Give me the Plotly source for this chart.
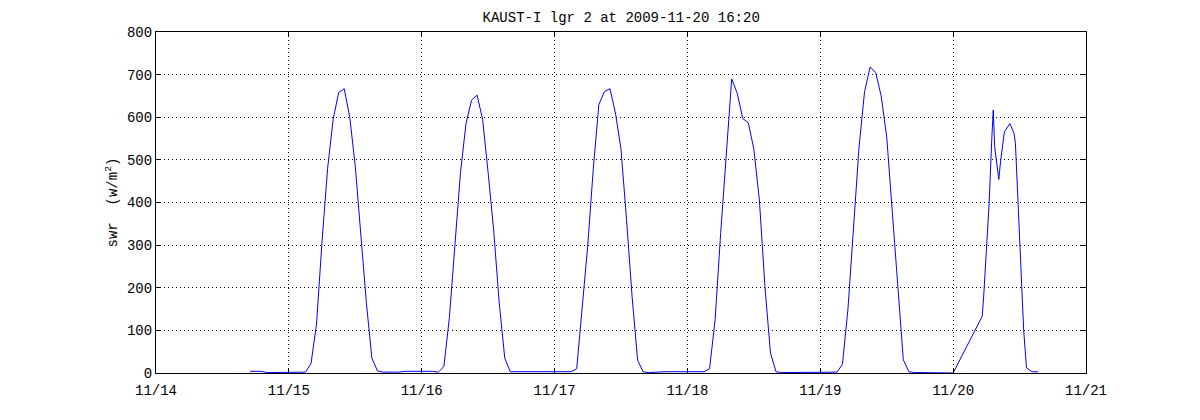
import pandas as pd
import plotly.graph_objects as go

# ---- data ----
title_text = "KAUST-I lgr 2 at 2009-11-20 16:20"
tick_days = ["2009-11-14", "2009-11-15", "2009-11-16", "2009-11-17",
             "2009-11-18", "2009-11-19", "2009-11-20", "2009-11-21"]
tick_labels = ["11/14", "11/15", "11/16", "11/17", "11/18", "11/19", "11/20", "11/21"]
y_ticks = [0, 100, 200, 300, 400, 500, 600, 700, 800]

# hourly values, 2009-11-14 17:00 .. 23:00
nov14_start = "2009-11-14 17:00"
nov14 = [4, 4, 4, 1, 1, 1, 1]
# hourly values 00:00 .. 23:00
nov15 = [1, 1, 1, 2, 22, 115, 310, 480, 595, 658, 667, 600, 485, 330, 165, 35, 5, 2, 2, 2, 2, 4, 4, 4]
nov16 = [4, 4, 4, 2, 15, 130, 305, 470, 585, 640, 652, 595, 470, 335, 165, 35, 3, 3, 3, 3, 3, 3, 3, 3]
nov17 = [3, 3, 3, 3, 10, 150, 300, 480, 630, 660, 667, 610, 525, 360, 180, 30, 3, 1, 2, 2, 3, 3, 3, 3]
nov18 = [3, 3, 3, 3, 10, 125, 327, 500, 690, 656, 597, 587, 525, 406, 203, 47, 3, 1, 1, 1, 2, 2, 2, 2]
nov19 = [2, 2, 2, 2, 20, 150, 340, 530, 660, 718, 705, 650, 554, 382, 199, 31, 3, 1, 1, 1, 1, 1, 1, 1]
# irregular samples on 2009-11-20
nov20_times = ["00:00", "05:15", "05:30", "06:00", "06:30", "07:00", "07:15", "07:30",
               "08:15", "08:30", "09:00", "09:15", "10:15", "11:00", "11:15", "12:00",
               "12:30", "12:45", "13:15", "14:15", "15:20"]
nov20 = [0, 133, 176, 287, 398, 554, 617, 531,
         454, 488, 546, 566, 585, 562, 539, 320,
         203, 99, 12, 3, 3]

# ---- assemble ----
times = list(pd.date_range(nov14_start, periods=len(nov14), freq="h"))
values = list(nov14)
for day, vals in [("2009-11-15", nov15), ("2009-11-16", nov16), ("2009-11-17", nov17),
                  ("2009-11-18", nov18), ("2009-11-19", nov19)]:
    times += list(pd.date_range(day + " 00:00", periods=len(vals), freq="h"))
    values += vals
times += [pd.Timestamp("2009-11-20 " + t) for t in nov20_times]
values += nov20

font_family = "Liberation Mono, DejaVu Sans Mono, monospace"

fig = go.Figure()
fig.add_trace(go.Scatter(x=times, y=values, mode="lines",
                         line=dict(color="#0000ff", width=1), showlegend=False))

axis_common = dict(
    showline=True, linecolor="black", linewidth=1, mirror="ticks",
    ticks="inside", ticklen=5, tickcolor="black", tickwidth=1,
    showgrid=True, gridcolor="black", gridwidth=1, griddash="1px,3px",
    zeroline=False, tickfont=dict(family=font_family, size=14, color="black"),
)

fig.update_layout(
    width=1200, height=420,
    margin=dict(l=148, r=122, t=24, b=55),
    paper_bgcolor="white", plot_bgcolor="white",
    title=dict(text=title_text, x=0.511, xanchor="center", y=0.979, yanchor="middle",
               font=dict(family=font_family, size=14, color="black")),
    xaxis=dict(type="date", range=[tick_days[0], tick_days[-1]],
               tickvals=tick_days, ticktext=tick_labels, ticklabelstandoff=4,
               **axis_common),
    yaxis=dict(range=[0, 800], tickvals=y_ticks,
               title=dict(text="swr  (w/m<sup>2</sup>)", standoff=6,
                          font=dict(family=font_family, size=14, color="black")),
               **axis_common),
)

fig.write_html("out.html")
